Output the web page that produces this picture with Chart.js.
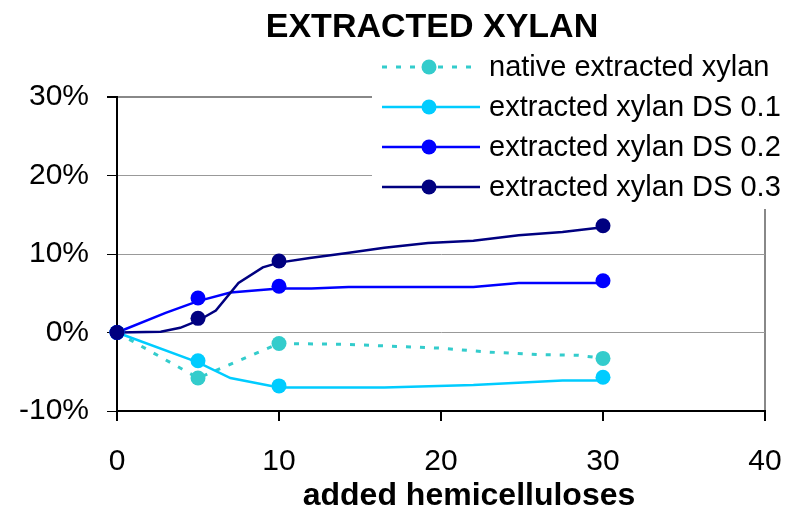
<!DOCTYPE html>
<html>
<head>
<meta charset="utf-8">
<script src="https://cdn.jsdelivr.net/npm/chart.js@4.4.1/dist/chart.umd.min.js"></script>
<style>
  html, body { margin: 0; padding: 0; background: #fff; }
  #wrap { width: 800px; height: 512px; }
</style>
</head>
<body>
<div id="wrap"><canvas id="chart" width="800" height="512"></canvas></div>
<script>
// measured points (marker positions)
const markerX = [0, 5, 10, 30];
const nativeMarks = [0, -5.8, -1.4, -3.3];
const ds1Marks = [0, -3.6, -6.8, -5.7];
const ds2Marks = [0, 4.4, 5.9, 6.6];
const ds3Marks = [0, 1.8, 9.1, 13.6];

// fitted curves (drawn as lines without markers)
const nativeCurveX = [0, 5, 10, 14, 20, 23, 26, 28.5, 30];
const nativeCurveY = [0, -5.8, -1.4, -1.5, -2.0, -2.5, -2.8, -2.9, -3.3];
const ds1CurveX = [0, 5, 7, 10, 16.5, 22, 27.5, 30];
const ds1CurveY = [0, -3.8, -5.8, -7.0, -7.0, -6.7, -6.1, -6.1];
const ds2CurveX = [0, 3, 5, 7, 10, 12, 14.3, 22, 24.8, 30];
const ds2CurveY = [0, 2.5, 4.0, 5.1, 5.6, 5.6, 5.8, 5.8, 6.3, 6.3];
const ds3CurveX = [0, 2.7, 3.9, 5, 6.1, 7.5, 9, 10, 11.9, 14.1, 16.5, 19.2, 22, 24.8, 27.5, 30];
const ds3CurveY = [0, 0.1, 0.6, 1.5, 2.8, 6.3, 8.3, 8.9, 9.5, 10.1, 10.8, 11.4, 11.7, 12.4, 12.8, 13.4];

const seriesLabels = ["native extracted xylan", "extracted xylan DS 0.1", "extracted xylan DS 0.2", "extracted xylan DS 0.3"];
const xTicks = [0, 10, 20, 30, 40];
const yTicks = [-10, 0, 10, 20, 30];

const chartTitle = "EXTRACTED XYLAN";
const xTitle = "added hemicelluloses";

const FONT = "'Liberation Sans', Arial, sans-serif";
const colors = ["#33CCCC", "#00CCFF", "#0000FF", "#000080"];
const dashes = [[5, 9], [], [], []];

const marks = [nativeMarks, ds1Marks, ds2Marks, ds3Marks];
const curvesX = [nativeCurveX, ds1CurveX, ds2CurveX, ds3CurveX];
const curvesY = [nativeCurveY, ds1CurveY, ds2CurveY, ds3CurveY];

function pairs(xs, ys) {
  return xs.map((x, i) => ({ x: x, y: ys[i] }));
}

const datasets = [];
for (let i = 0; i < 4; i++) {
  datasets.push({
    label: seriesLabels[i] + " curve",
    data: pairs(curvesX[i], curvesY[i]),
    showLine: true,
    borderColor: colors[i],
    borderWidth: dashes[i].length ? 3 : 2.5,
    borderDash: dashes[i],
    pointRadius: 0,
    pointHoverRadius: 0,
    clip: false,
    order: 10 - i
  });
}
for (let i = 0; i < 4; i++) {
  datasets.push({
    label: seriesLabels[i],
    data: pairs(markerX, marks[i]),
    showLine: false,
    backgroundColor: colors[i],
    borderColor: colors[i],
    pointRadius: 7.5,
    pointBorderWidth: 0,
    clip: false,
    order: 4 - i,
    isMarker: true,
    dash: dashes[i]
  });
}

// title, axis title and the legend box that sits over the plot
const overlay = {
  id: "overlay",
  afterDraw(chart) {
    const ctx = chart.ctx;
    ctx.save();
    ctx.fillStyle = "#000";
    ctx.textAlign = "center";
    ctx.textBaseline = "alphabetic";
    ctx.font = "bold 34px " + FONT;
    ctx.fillText(chartTitle, 432, 37);
    ctx.font = "bold 32px " + FONT;
    ctx.fillText(xTitle, 469, 505);

    // legend
    ctx.fillStyle = "#fff";
    ctx.fillRect(372, 46, 428, 163);
    const items = chart.data.datasets.filter(d => d.isMarker);
    items.forEach((d, i) => {
      const cy = 67 + i * 40;
      ctx.strokeStyle = d.borderColor;
      ctx.lineWidth = d.dash.length ? 3 : 2.5;
      ctx.setLineDash(d.dash);
      ctx.beginPath();
      ctx.moveTo(382, cy);
      ctx.lineTo(480, cy);
      ctx.stroke();
      ctx.setLineDash([]);
      ctx.fillStyle = d.backgroundColor;
      ctx.beginPath();
      ctx.arc(429, cy, 7.5, 0, Math.PI * 2);
      ctx.fill();
      ctx.fillStyle = "#000";
      ctx.textAlign = "left";
      ctx.font = "29px " + FONT;
      ctx.fillText(d.label, 489, cy + 9);
    });
    ctx.restore();
  }
};

new Chart(document.getElementById("chart").getContext("2d"), {
  type: "scatter",
  data: { datasets: datasets },
  options: {
    responsive: false,
    animation: false,
    layout: { padding: { top: 97, right: 35, left: 0, bottom: 0 } },
    plugins: {
      legend: { display: false },
      title: { display: false },
      tooltip: { enabled: false }
    },
    scales: {
      x: {
        type: "linear",
        min: xTicks[0],
        max: xTicks[xTicks.length - 1],
        afterBuildTicks: (s) => { s.ticks = xTicks.map(v => ({ value: v })); },
        afterFit: (s) => { s.height = 101; s.paddingLeft = 0; s.paddingRight = 0; },
        ticks: { color: "#000", font: { size: 30, family: FONT }, padding: 23, maxRotation: 0 },
        grid: {
          color: (c) => (c.tick && c.tick.value === 40 ? "#888" : "rgba(0,0,0,0)"),
          tickColor: "#000",
          tickLength: 10,
          lineWidth: 2
        },
        border: { color: "#000", width: 2 }
      },
      y: {
        type: "linear",
        min: yTicks[0],
        max: yTicks[yTicks.length - 1],
        afterBuildTicks: (s) => { s.ticks = yTicks.map(v => ({ value: v })); },
        afterFit: (s) => { s.width = 117; s.paddingTop = 0; s.paddingBottom = 0; },
        ticks: {
          color: "#000",
          font: { size: 30, family: FONT },
          padding: 18,
          callback: (v) => v + "%"
        },
        grid: {
          color: (c) => (c.tick && c.tick.value === 30 ? "#888" : "#999"),
          lineWidth: (c) => (c.tick && c.tick.value === 30 ? 2 : 1),
          tickColor: "#000",
          tickLength: 10
        },
        border: { color: "#000", width: 2 }
      }
    }
  },
  plugins: [overlay]
});
</script>
</body>
</html>
